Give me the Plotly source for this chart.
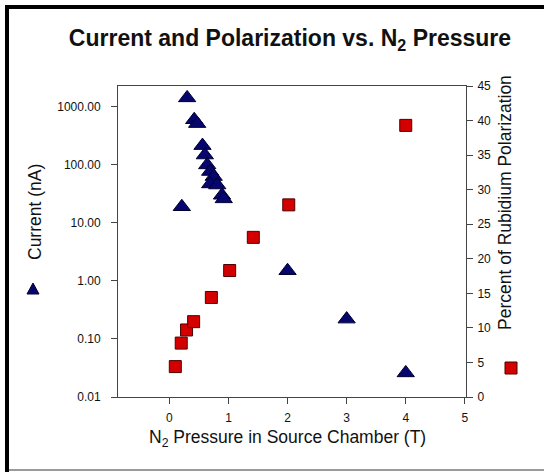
import plotly.graph_objects as go

# Data
current_x = [0.30, 0.42, 0.47, 0.56, 0.60, 0.64, 0.69, 0.75, 0.69, 0.81, 0.89, 0.92, 0.21, 2.0, 3.0, 4.0]
current_y = [1430, 600, 515, 215, 148, 100, 77, 63, 47, 45, 30, 26, 19, 1.5, 0.22, 0.026]
pol_x = [0.10, 0.20, 0.29, 0.41, 0.71, 1.02, 1.42, 2.02, 4.0]
pol_y = [4.4, 7.8, 9.7, 10.9, 14.4, 18.3, 23.1, 27.8, 39.3]
x_ticks = [0, 1, 2, 3, 4, 5]
left_ticks = [0.01, 0.1, 1, 10, 100, 1000]
left_ticktext = ["0.01", "0.10", "1.00", "10.00", "100.00", "1000.00"]
right_ticks = [0, 5, 10, 15, 20, 25, 30, 35, 40, 45]

W, H = 544, 472
L, R, T, B = 118, 78, 86, 75
PW, PH = W - L - R, H - T - B

def px(x):
    return (x - L) / PW

def py(y):
    return (H - B - y) / PH

FONT = "Arial, Liberation Sans, sans-serif"
NAVY = "#06066e"
RED = "#d40000"
TXT = "#111"

fig = go.Figure()
fig.add_trace(go.Scatter(
    x=current_x, y=current_y, mode="markers", yaxis="y",
    marker=dict(symbol="triangle-up", size=15, color=NAVY, line=dict(color="#000030", width=1)),
    showlegend=False))
fig.add_trace(go.Scatter(
    x=pol_x, y=pol_y, mode="markers", yaxis="y2",
    marker=dict(symbol="square", size=12, color=RED, line=dict(color="#500000", width=1)),
    showlegend=False))

axis_common = dict(showgrid=False, zeroline=False, showline=True, linecolor="#444", linewidth=1,
                   ticks="outside", ticklen=6, tickcolor="#444",
                   tickfont=dict(family=FONT, size=12, color=TXT))

fig.update_layout(
    width=W, height=H,
    margin=dict(l=L, r=R, t=T, b=B),
    paper_bgcolor="white", plot_bgcolor="white",
    title=dict(text="<b>Current and Polarization vs. N<sub>2</sub> Pressure</b>",
               x=px(290), xref="paper", xanchor="center", y=1 - 38 / H, yanchor="middle",
               font=dict(family=FONT, size=23, color=TXT)),
    xaxis=dict(range=[-0.87, 5.02], tickvals=x_ticks, mirror=True, ticklabelstandoff=4,
               **axis_common),
    yaxis=dict(type="log", range=[-2, 3.36], tickvals=left_ticks, ticktext=left_ticktext,
               ticklabelstandoff=8, **axis_common),
    yaxis2=dict(overlaying="y", side="right", range=[0, 45], tickvals=right_ticks,
                ticklabelstandoff=2, **axis_common),
)

ann_font = dict(family=FONT, size=17.5, color=TXT)
fig.add_annotation(text="Current (nA)", xref="paper", yref="paper", x=px(35), y=py(212),
                   textangle=-90, showarrow=False, font=ann_font, xanchor="center", yanchor="middle")
fig.add_annotation(text="Percent of Rubidium Polarization", xref="paper", yref="paper",
                   x=px(505), y=py(203), textangle=-90, showarrow=False, font=ann_font,
                   xanchor="center", yanchor="middle")
fig.add_annotation(text="N<sub>2</sub> Pressure in Source Chamber (T)", xref="paper", yref="paper",
                   x=px(287), y=py(438), showarrow=False, font=ann_font,
                   xanchor="center", yanchor="middle")

shapes = []
# Border of the original slide
shapes.append(dict(type="rect", xref="paper", yref="paper", x0=px(5), x1=px(9), y0=py(472), y1=py(5),
                   fillcolor="black", line=dict(width=0), layer="above"))
shapes.append(dict(type="rect", xref="paper", yref="paper", x0=px(5), x1=px(544), y0=py(9), y1=py(5),
                   fillcolor="black", line=dict(width=0), layer="above"))
shapes.append(dict(type="line", xref="paper", yref="paper", x0=px(9), x1=px(544), y0=py(470), y1=py(470),
                   line=dict(color="#9a9a9a", width=2)))
# Legend symbols beside axis titles
shapes.append(dict(type="path", xref="paper", yref="paper", xsizemode="pixel", ysizemode="pixel",
                   xanchor=px(33), yanchor=py(289), path="M -6,-5 L 6,-5 L 0,6 Z",
                   fillcolor=NAVY, line=dict(color="#000030", width=1)))
shapes.append(dict(type="rect", xref="paper", yref="paper", xsizemode="pixel", ysizemode="pixel",
                   xanchor=px(511), yanchor=py(368), x0=-6, x1=6, y0=-6, y1=6,
                   fillcolor=RED, line=dict(color="#500000", width=1)))
fig.update_layout(shapes=shapes)

fig.write_html("out.html")
